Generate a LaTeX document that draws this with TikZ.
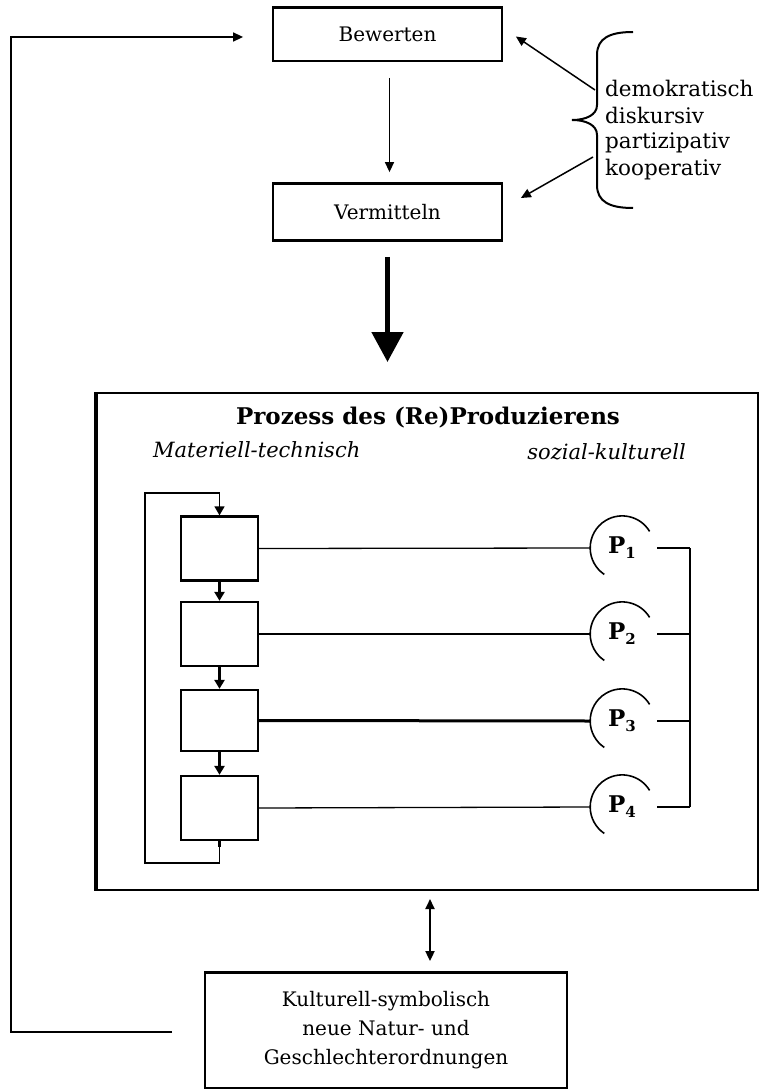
\documentclass[tikz,border=0pt]{standalone}
\usepackage{fontspec}
\setmainfont{DejaVu Serif}
\usetikzlibrary{arrows.meta}
\begin{document}
\begin{tikzpicture}[x=1pt,y=1pt,
  box/.style={draw, line width=1.8pt, inner sep=0pt, align=center, font=\fontsize{20}{29}\selectfont},
  sbox/.style={draw, line width=2.3pt, minimum width=77pt, minimum height=64pt, inner sep=0pt},
  pnode/.style={circle, minimum size=64pt, inner sep=0pt, font=\fontsize{23}{23}\selectfont\bfseries},
  arr/.style={line width=1.5pt, -{Triangle[width=9pt,length=10pt]}},
  darr/.style={line width=1.8pt, {Triangle[width=9pt,length=10pt]}-{Triangle[width=9pt,length=10pt]}},
  bigarr/.style={line width=5pt, -{Triangle[width=31pt,length=30pt]}},
  conn/.style={line width=1.3pt},
  txt/.style={inner sep=0pt, font=\fontsize{21.5}{27}\selectfont}
]
\useasboundingbox (0,0) rectangle (764,-1091);

% top boxes
\node[box, minimum width=229pt, minimum height=53pt] (bew) at (387.5,-34.5) {Bewerten};
\node[box, minimum width=229pt, minimum height=56pt] (ver) at (387.5,-212) {Vermitteln};
\draw[line width=3pt] (bew.north west) -- (bew.north east);
\draw[line width=3pt] (ver.north west) -- (ver.north east);
\draw[line width=3pt] (ver.south west) -- (ver.south east);

% brace and its words
\draw[line width=2pt] (633,-32) .. controls (610,-32) and (597,-38) .. (597,-55) -- (597,-105)
  .. controls (597,-115) and (586,-120) .. (572,-120)
  .. controls (586,-120) and (597,-125) .. (597,-135) -- (597,-185)
  .. controls (597,-202) and (610,-208) .. (633,-208);
\node[txt, anchor=west] (w1) at (605,-88) {demokratisch};
\node[txt, anchor=west] (w2) at (605,-115) {diskursiv};
\node[txt, anchor=west] (w3) at (605,-143) {partizipativ};
\node[txt, anchor=west] (w4) at (605,-170) {kooperativ};
\coordinate (bu) at (595,-90);
\coordinate (bl) at (593,-157);
\draw[arr] (bu) -- ([shift={(13pt,-2pt)}]bew.east);
\draw[arr] (bl) -- ([shift={(18pt,14pt)}]ver.east);

% arrows between top boxes
\draw[arr, shorten <=16pt, shorten >=11pt] ([xshift=2pt]bew.south) -- ([xshift=2pt]ver.north);

% big process box
\node[draw, line width=2pt, minimum width=661pt, minimum height=497pt, inner sep=0pt] (big) at (427.5,-641.5) {};
\draw[line width=3.2pt] (big.north west) -- (big.south west);
\draw[bigarr, shorten <=16pt, shorten >=30pt] (ver.south) -- (ver.south |- big.north);

\node[inner sep=0pt, font=\fontsize{23}{23}\selectfont\bfseries] (title) at (428,-418) {Prozess des (Re)Produzierens};
\node[inner sep=0pt, anchor=west, font=\fontsize{21}{21}\selectfont\itshape] (mt) at (153,-450) {Materiell-technisch};
\node[inner sep=0pt, anchor=east, font=\fontsize{21}{21}\selectfont\itshape] (sk) at (686,-452) {sozial-kulturell};

% inner boxes
\node[sbox] (b1) at (219.5,-548.5) {};
\node[sbox] (b2) at (219.5,-634) {};
\node[sbox, minimum height=61pt] (b3) at (219.5,-720.5) {};
\node[sbox] (b4) at (219.5,-808) {};
\draw[line width=2.5pt, -{Triangle[width=10pt,length=9pt]}] (b1.south) -- (b2.north);
\draw[line width=2.5pt, -{Triangle[width=10pt,length=9pt]}] (b2.south) -- (b3.north);
\draw[line width=2.5pt, -{Triangle[width=10pt,length=9pt]}] (b3.south) -- (b4.north);
\coordinate (lb) at (145,-863);
\coordinate (lt) at (145,-493);
\draw[line width=1.5pt, -{Triangle[width=10pt,length=9pt]}] (b4.south) -- (b4.south |- lb) -- (lb) -- (lt) -- (lt -| b1.north) -- (b1.north);
\draw[line width=3pt] (b4.south) -- ([yshift=-6pt]b4.south);

% P nodes
\node[pnode] (p1) at (622,-548) {P\raisebox{-5pt}{\fontsize{15}{15}\selectfont 1}};
\node[pnode] (p2) at (622,-634) {P\raisebox{-5pt}{\fontsize{15}{15}\selectfont 2}};
\node[pnode] (p3) at (622,-721) {P\raisebox{-5pt}{\fontsize{15}{15}\selectfont 3}};
\node[pnode] (p4) at (622,-807) {P\raisebox{-5pt}{\fontsize{15}{15}\selectfont 4}};
\foreach \p in {p1,p2,p3,p4}{
  \draw[line width=1.6pt] (\p.31) arc[start angle=31, end angle=236, radius=32pt];
}
\draw[conn] (b1.east) -- (p1.west);
\draw[conn] (b2.east) -- (p2.west);
\draw[line width=3pt] (b3.east) -- (p3.west);
\draw[conn] (b4.east) -- (p4.west);
\coordinate (rt) at (690,-548);
\coordinate (rb) at (690,-807);
\draw[line width=2.5pt] (rt) -- (rb);
\foreach \p in {p1,p2,p3,p4}{
  \draw[conn] ([xshift=3pt]\p.east) -- (\p.east -| rt);
}

% bottom box
\node[box, minimum width=362pt, minimum height=115pt] (kul) at (386,-1030.5) {Kulturell-symbolisch\\neue Natur- und\\Geschlechterordnungen};
\draw[line width=3pt] (kul.north west) -- (kul.north east);
\draw[darr, shorten <=8pt, shorten >=11pt] ([xshift=2.5pt]big.south) -- ([xshift=2.5pt]big.south |- kul.north);

% feedback line
\coordinate (fbb) at (11,-1032);
\coordinate (fbt) at (11,-37);
\draw[arr, shorten <=32pt, shorten >=29pt] (fbb -| kul.west) -- (fbb) -- (fbt) -- (fbt -| bew.west);
\end{tikzpicture}
\end{document}
